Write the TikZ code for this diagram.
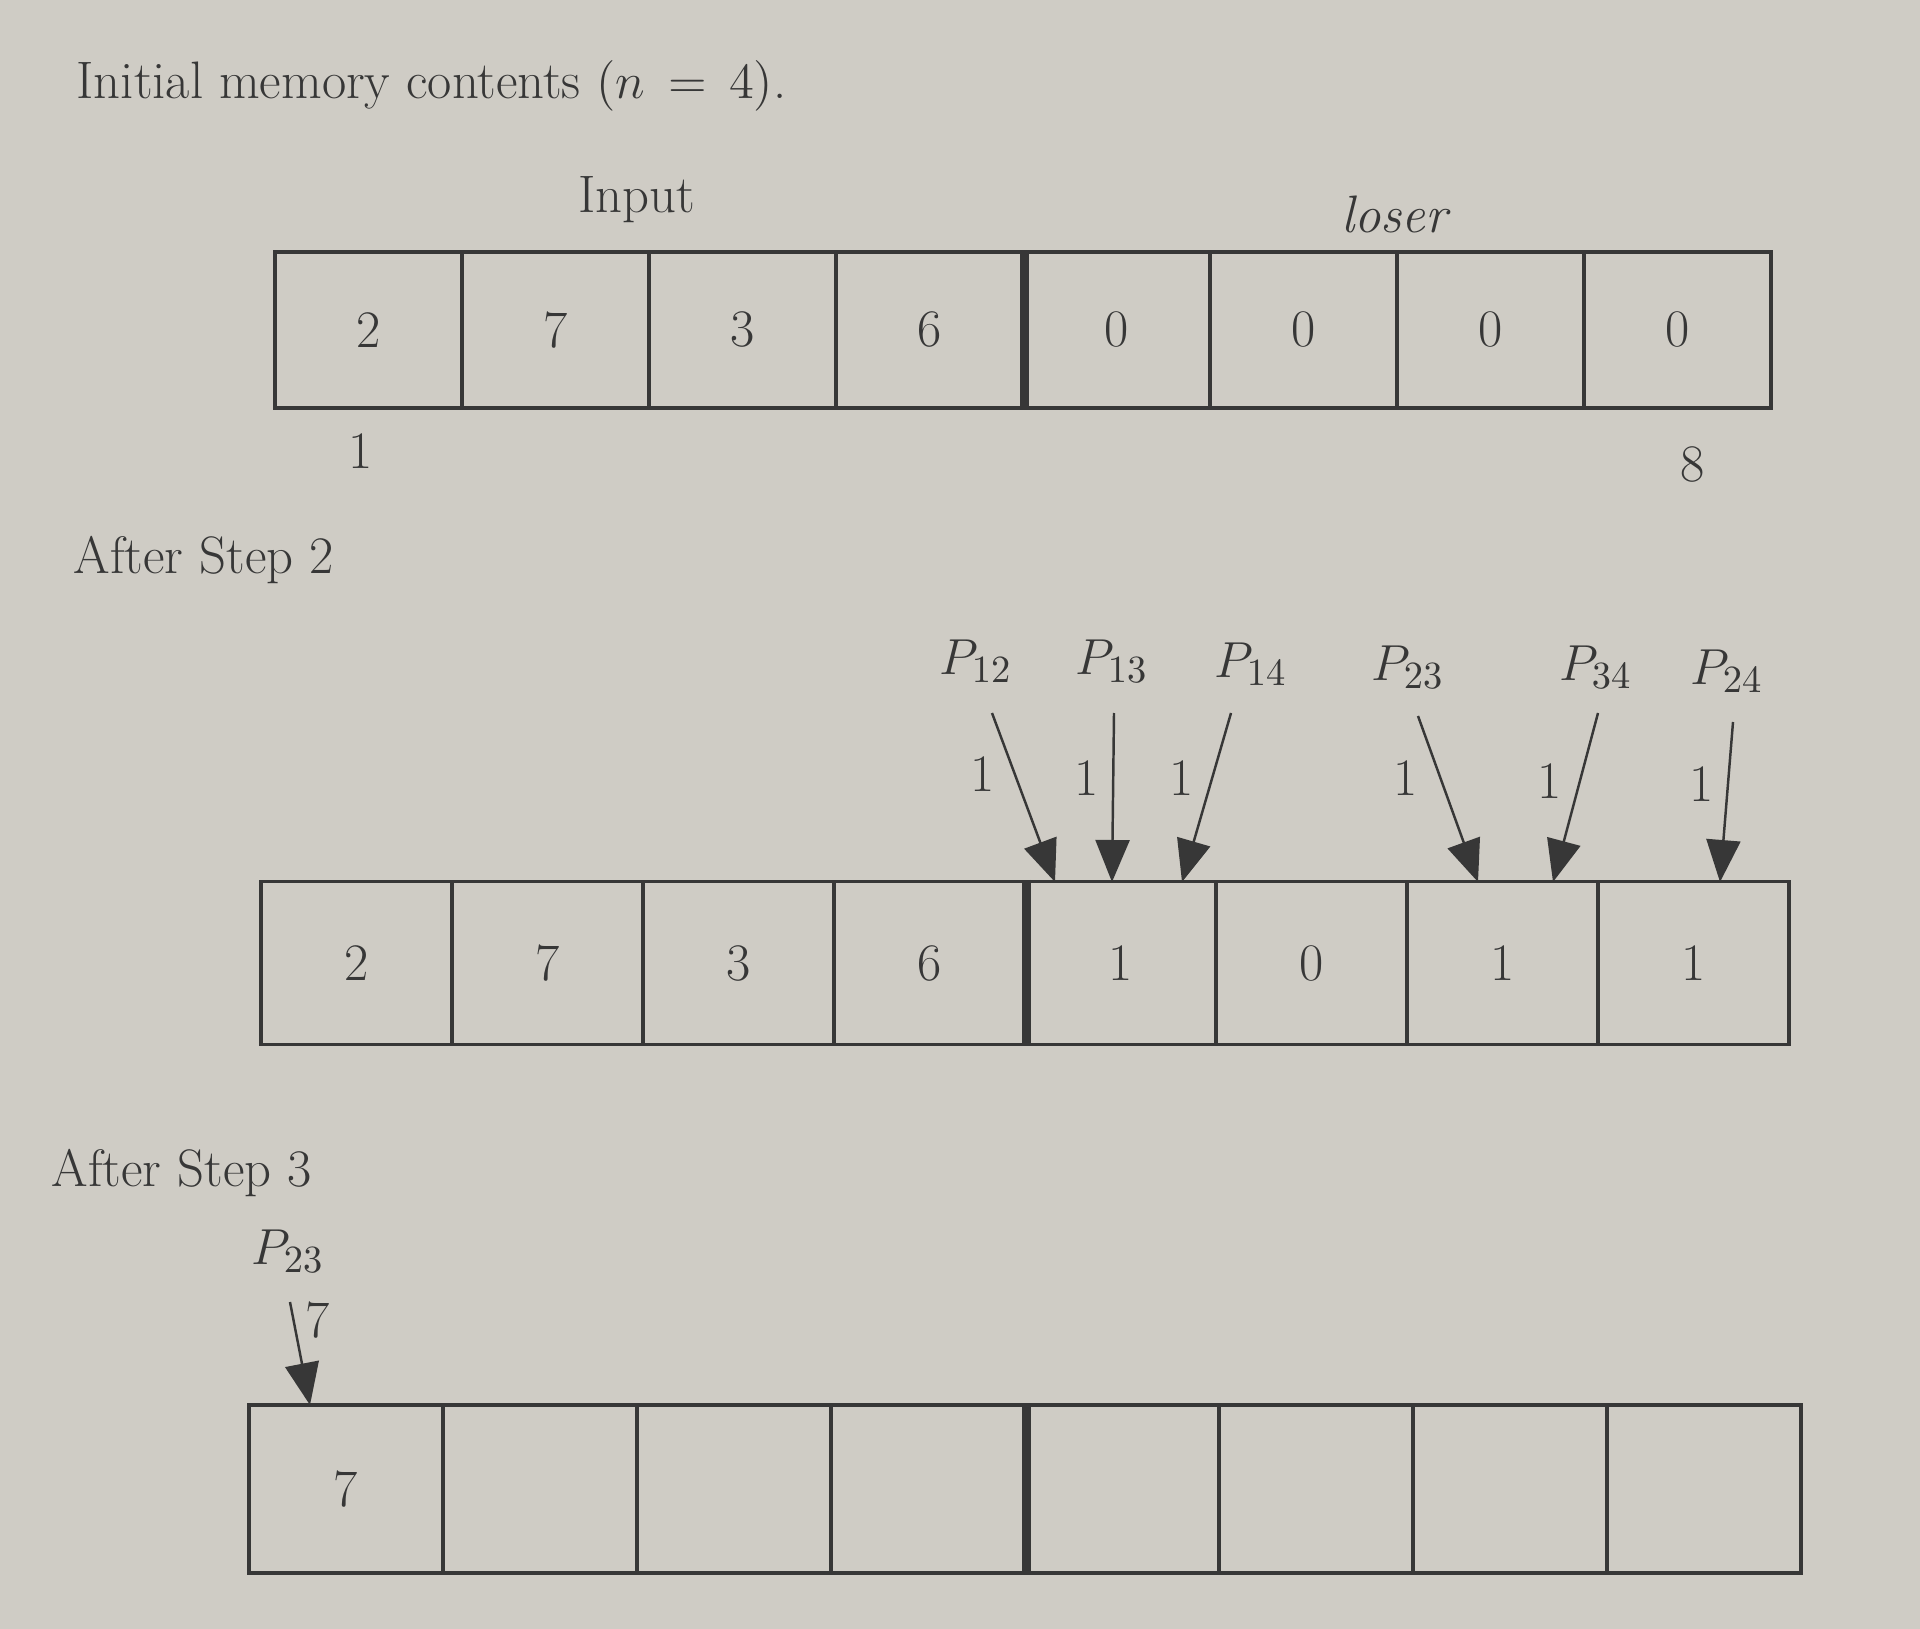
\documentclass[tikz,border=0pt]{standalone}
\usepackage{tikz}
\usetikzlibrary{arrows.meta, positioning, calc}
\definecolor{paper}{RGB}{207,204,197}
\definecolor{ink}{RGB}{55,55,55}

\begin{document}
\begin{tikzpicture}[
    font=\fontsize{15}{18}\selectfont,
    every node/.style={text=ink},
    cell/.style={rectangle, draw=ink, line width=0.9pt, inner sep=0pt},
    cella/.style={cell, minimum width=1.87cm, minimum height=1.56cm},
    cellb/.style={cell, minimum width=1.91cm, minimum height=1.63cm},
    cellc/.style={cell, minimum width=1.94cm, minimum height=1.68cm},
    divider/.style={draw=ink, line width=2.6pt},
    procarrow/.style={-{Triangle[length=0.42cm, width=0.34cm]}, draw=ink, line width=0.7pt},
]
    \useasboundingbox[fill=paper] (0,0) rectangle (19.2,-16.29);

    % Headings
    \node[anchor=west, inner sep=0pt] (title) at (0.76, -0.86) {Initial memory contents $(n\,=\,4)$.};
    \node[anchor=west, inner sep=0pt] (step2) at (0.73, -5.60) {After Step 2};
    \node[anchor=west, inner sep=0pt] (step3) at (0.51, -11.73) {After Step 3};

    % Initial memory
    \foreach \v [count=\i] in {2,7,3,6,0,0,0,0} {
        \node[cella] (a\i) at ({3.685+1.87*(\i-1)}, -3.30) {\v};
    }
    \draw[divider] (a4.north east) -- (a4.south east);
    \node (input) at (6.37, -2.00) {Input};
    \node (loser) at (13.96, -2.14) {\textit{loser}};
    \node (first) at (3.61, -4.51) {1};
    \node (last) at (16.93, -4.65) {8};

    % After Step 2
    \foreach \v [count=\i] in {2,7,3,6,1,0,1,1} {
        \node[cellb] (b\i) at ({3.565+1.91*(\i-1)}, -9.63) {\v};
    }
    \draw[divider] (b4.north east) -- (b4.south east);
    \foreach \n/\lx/\ly/\sx/\sy/\ex/\ox/\oy in {
        12/9.76/-6.61/9.92/-7.13/10.55/9.83/-7.74,
        13/11.12/-6.61/11.14/-7.13/11.12/10.87/-7.78,
        14/12.51/-6.64/12.31/-7.13/11.82/11.82/-7.78,
        23/14.08/-6.67/14.18/-7.16/14.78/14.06/-7.78,
        34/15.96/-6.67/15.98/-7.13/15.53/15.50/-7.81,
        24/17.27/-6.71/17.33/-7.22/17.20/17.02/-7.84} {
        \node (p\n) at (\lx, \ly) {$P_{\n}$};
        \node (w\n) at (\ox, \oy) {1};
        \coordinate (s\n) at (\sx, \sy);
        \coordinate (e\n) at (\ex, -8.82);
        \draw[procarrow] (s\n) -- (e\n);
    }

    % After Step 3
    \foreach \i in {1,...,8} {
        \node[cellc] (c\i) at ({3.46+1.94*(\i-1)}, -14.89) {\ifnum\i=1 7\fi};
    }
    \draw[divider] (c4.north east) -- (c4.south east);
    \node (q23) at (2.88, -12.51) {$P_{23}$};
    \node (wq) at (3.18, -13.20) {7};
    \coordinate (sq) at (2.90, -13.02);
    \coordinate (eq) at (3.10, -14.05);
    \draw[procarrow] (sq) -- (eq);
\end{tikzpicture}
\end{document}
